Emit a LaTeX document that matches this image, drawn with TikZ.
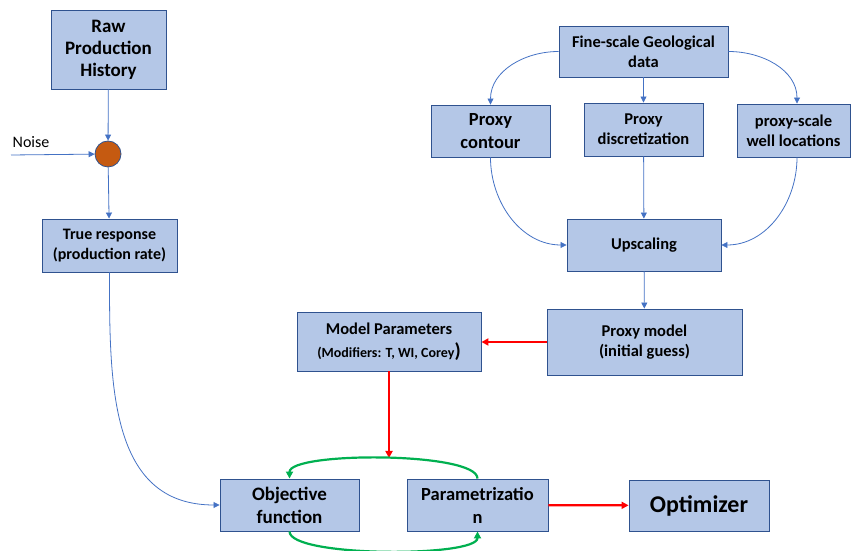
\documentclass[tikz,border=0pt]{standalone}
\usepackage{fontspec}
\setmainfont{Carlito}
\usetikzlibrary{arrows.meta}
\definecolor{boxfill}{HTML}{B4C7E7}
\definecolor{boxline}{HTML}{2F528F}
\definecolor{flowblue}{HTML}{4472C4}
\definecolor{loopgreen}{HTML}{00B050}
\definecolor{noisefill}{HTML}{C55A11}
\newcommand{\fsz}[2]{\fontsize{#1}{#2}\selectfont}
\begin{document}
\begin{tikzpicture}[x=1pt, y=1pt,
    box/.style={draw=boxline, fill=boxfill, line width=0.9pt, align=center, inner sep=0pt},
    flow/.style={-{Triangle[length=6pt,width=6pt]}, flowblue, line width=0.8pt},
    redflow/.style={-{Triangle[length=7pt,width=7pt]}, red, line width=2.2pt},
    greenflow/.style={-{Triangle[length=7pt,width=7pt]}, loopgreen, line width=2.2pt}
  ]
    \useasboundingbox (0,0) rectangle (851,551);
    % measured side
    \node[box, minimum width=115pt, minimum height=79pt, font=\bfseries\fsz{19}{22}] (raw) at (108.5,501.5) {Raw\\Production\\History};
    \node[circle, draw=boxline, fill=noisefill, line width=0.8pt, minimum size=26pt, inner sep=0pt] (noise) at (108,397) {};
    \node[font=\fsz{16}{18}] (noiselabel) at (31,409) {Noise};
    \coordinate (noisein) at (11,396);
    \node[box, minimum width=135pt, minimum height=53pt, font=\bfseries\fsz{16}{20}] (truth) at (109.5,305.5) {True response\\(production rate)};
    % proxy side
    \node[box, minimum width=169pt, minimum height=51pt, font=\bfseries\fsz{16.5}{20}] (fine) at (643.5,499.5) {Fine-scale Geological\\data};
    \node[box, minimum width=119pt, minimum height=52pt, font=\bfseries\fsz{18.5}{23}] (contour) at (490.5,420) {Proxy\\contour};
    \node[box, minimum width=119pt, minimum height=53pt, font=\bfseries\fsz{16.5}{20}] (discr) at (643.5,421.5) {Proxy\\discretization};
    \node[box, minimum width=113pt, minimum height=53pt, font=\bfseries\fsz{16.5}{20}] (wells) at (793.5,420.5) {proxy-scale\\well locations};
    \node[box, minimum width=154pt, minimum height=52pt, font=\bfseries\fsz{16.5}{20}] (upscale) at (644,306) {Upscaling};
    \node[box, minimum width=195pt, minimum height=66pt, font=\bfseries\fsz{16.5}{20}] (proxy) at (644.5,209) {Proxy model\\(initial guess)};
    \node[box, minimum width=184pt, minimum height=59pt, font=\bfseries\fsz{16.5}{23}] (params) at (389,209.5) {Model Parameters\\{\fsz{14}{23}(Modifiers: T, WI, Corey}{\fsz{20}{23})}};
    % optimisation loop
    \node[box, minimum width=139pt, minimum height=52pt, font=\bfseries\fsz{19}{23}] (objective) at (289.5,46) {Objective\\function};
    \node[box, minimum width=141pt, minimum height=52pt, font=\bfseries\fsz{18.5}{23}] (paramz) at (477.5,46) {Parametrizatio\\n};
    \node[box, minimum width=140pt, minimum height=51pt, font=\bfseries\fsz{24}{26}] (optimizer) at (699,45.5) {Optimizer};
    \coordinate (looptop) at (389,93);
    \draw[flow] (raw) -- (noise);
    \draw[flow] (noisein) -- (noise);
    \draw[flow] (noise) -- (truth);
    \draw[flow] (truth.south) to[out=-90, in=180, looseness=1.1] (objective.west);
    \draw[flow] (fine.west) to[out=180, in=90] (contour.north);
    \draw[flow] (fine) -- (discr);
    \draw[flow] (fine.east) to[out=0, in=90] ([xshift=3.5pt]wells.north);
    \draw[flow] (contour.south) to[out=-90, in=180] (upscale.west);
    \draw[flow] (discr) -- (upscale);
    \draw[flow] ([xshift=3.5pt]wells.south) to[out=-90, in=0] (upscale.east);
    \draw[flow] (upscale) -- (proxy);
    \draw[redflow] (proxy.west) -- (proxy.west -| params.east);
    \draw[redflow] (params.south) -- (looptop);
    \draw[redflow] (paramz) -- (optimizer);
    \draw[greenflow] (paramz.north) .. controls +(0,27) and +(0,27) .. (objective.north);
    \draw[greenflow] (objective.south) .. controls +(0,-26) and +(0,-26) .. (paramz.south);
  \end{tikzpicture}
\end{document}
